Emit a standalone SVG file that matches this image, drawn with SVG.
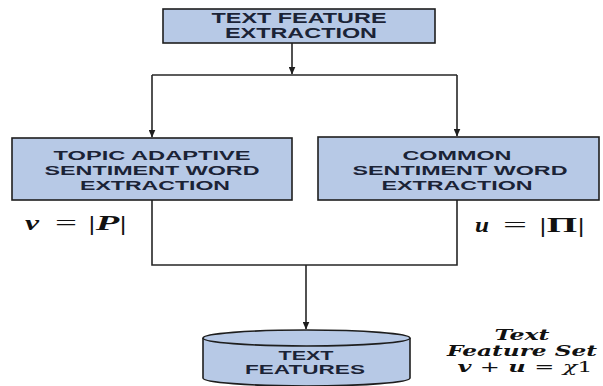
<svg xmlns="http://www.w3.org/2000/svg" width="603" height="386" viewBox="0 0 603 386">
  <defs>
    <marker id="arrow" markerWidth="8" markerHeight="7" refX="7.5" refY="3.5" orient="auto" markerUnits="userSpaceOnUse">
      <path d="M0,0 L8,3.5 L0,7 Z" fill="#1e1e1e"/>
    </marker>
  </defs>
  <style>
    .box { fill: #b7c9e6; stroke: #1e1e1e; stroke-width: 1.6; }
    .lbl { font-family: "Liberation Sans", Arial, sans-serif; font-weight: bold; fill: #1b2336; text-anchor: middle; }
    .wire { fill: none; stroke: #262626; stroke-width: 1.6; }
    .math { font-family: "Liberation Serif", "Times New Roman", serif; font-size: 20px; fill: #111; }
    .bi { font-weight: bold; font-style: italic; }
    .set { font-family: "DejaVu Serif", "Liberation Serif", serif; font-weight: bold; font-style: italic; font-size: 14px; fill: #111; text-anchor: middle; }
    .plain { font-weight: normal; font-style: normal; }
  </style>

  <rect width="603" height="386" fill="#ffffff"/>

  <!-- connectors -->
  <g id="connectors">
    <line class="wire" x1="292" y1="43" x2="292" y2="74" marker-end="url(#arrow)"/>
    <line class="wire" x1="152" y1="75" x2="457" y2="75"/>
    <line class="wire" x1="152" y1="75" x2="152" y2="137" marker-end="url(#arrow)"/>
    <line class="wire" x1="457" y1="75" x2="457" y2="136" marker-end="url(#arrow)"/>
    <polyline class="wire" points="152,200 152,265 457,265 457,200"/>
    <line class="wire" x1="306" y1="265" x2="306" y2="329" marker-end="url(#arrow)"/>
  </g>

  <!-- source node -->
  <g id="text-feature-extraction">
    <rect class="box" x="163" y="9" width="272" height="34"/>
    <text class="lbl" font-size="14" x="299" y="23" textLength="175" lengthAdjust="spacingAndGlyphs">TEXT FEATURE</text>
    <text class="lbl" font-size="14" x="301" y="37.5" textLength="152" lengthAdjust="spacingAndGlyphs">EXTRACTION</text>
  </g>

  <!-- left branch -->
  <g id="topic-adaptive-extraction">
    <rect class="box" x="12" y="138" width="280" height="62"/>
    <text class="lbl" font-size="13.5" x="152" y="160" textLength="197" lengthAdjust="spacingAndGlyphs">TOPIC ADAPTIVE</text>
    <text class="lbl" font-size="13.5" x="152" y="175" textLength="215" lengthAdjust="spacingAndGlyphs">SENTIMENT WORD</text>
    <text class="lbl" font-size="13.5" x="155" y="190" textLength="150" lengthAdjust="spacingAndGlyphs">EXTRACTION</text>
  </g>

  <!-- right branch -->
  <g id="common-sentiment-extraction">
    <rect class="box" x="318" y="137" width="281" height="63"/>
    <text class="lbl" font-size="13.5" x="457" y="159.5" textLength="109" lengthAdjust="spacingAndGlyphs">COMMON</text>
    <text class="lbl" font-size="13.5" x="460" y="174.5" textLength="215" lengthAdjust="spacingAndGlyphs">SENTIMENT WORD</text>
    <text class="lbl" font-size="13.5" x="457" y="189.5" textLength="151" lengthAdjust="spacingAndGlyphs">EXTRACTION</text>
  </g>

  <!-- cardinality labels -->
  <g id="label-v" class="math">
    <text class="bi" x="25" y="230" textLength="14" lengthAdjust="spacingAndGlyphs">v</text>
    <text x="55" y="230" textLength="22" lengthAdjust="spacingAndGlyphs">=</text>
    <text x="88" y="230" textLength="39" lengthAdjust="spacingAndGlyphs">|<tspan class="bi">P</tspan>|</text>
  </g>
  <g id="label-u" class="math">
    <text class="bi" x="475" y="232" textLength="14" lengthAdjust="spacingAndGlyphs">u</text>
    <text x="503" y="232" textLength="24" lengthAdjust="spacingAndGlyphs">=</text>
    <text x="539" y="232" textLength="46" lengthAdjust="spacingAndGlyphs">|<tspan font-weight="bold">Π</tspan>|</text>
  </g>

  <!-- result store -->
  <g id="text-features">
    <path class="box" d="M203,338 L203,378 A103.5,8 0 0 0 410,378 L410,338"/>
    <ellipse class="box" cx="306.5" cy="338" rx="103.5" ry="8"/>
    <text class="lbl" font-size="13" x="306" y="360" textLength="55" lengthAdjust="spacingAndGlyphs">TEXT</text>
    <text class="lbl" font-size="13" x="305" y="374" textLength="120" lengthAdjust="spacingAndGlyphs">FEATURES</text>
  </g>

  <g id="feature-set-label">
    <text class="set" x="522" y="340" textLength="55" lengthAdjust="spacingAndGlyphs">Text</text>
    <text class="set" x="522" y="356" textLength="150" lengthAdjust="spacingAndGlyphs">Feature Set</text>
    <text class="set" x="525" y="372" textLength="135" lengthAdjust="spacingAndGlyphs">v <tspan class="plain">+</tspan> u <tspan class="plain">=</tspan> <tspan style="font-weight:normal">χ</tspan><tspan class="plain">1</tspan></text>
  </g>
</svg>
